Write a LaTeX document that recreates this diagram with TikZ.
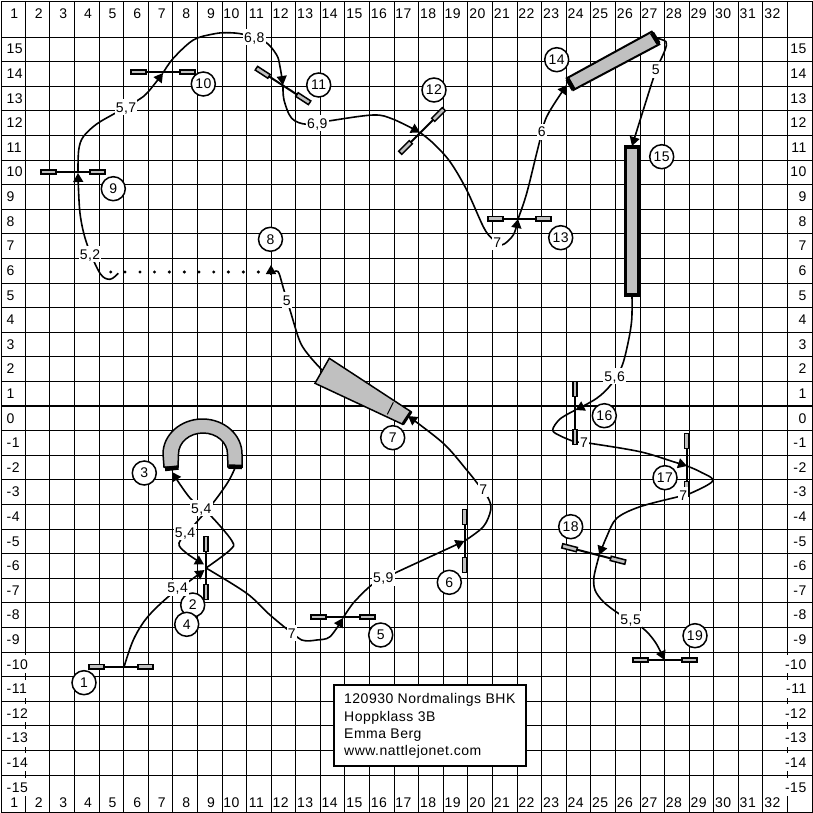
\documentclass[tikz,border=0pt]{standalone}
\usepackage{fontspec}
\setmainfont[LetterSpace=3.5]{Liberation Sans}
\usetikzlibrary{arrows.meta}
\definecolor{jumpgray}{RGB}{192,192,192}
\tikzset{
  x=1pt,y=-1pt,
  gridline/.style={line width=1pt,black},
  axislabel/.style={font=\fontsize{14}{14}\selectfont,fill=white,inner xsep=0.5pt,inner ysep=2pt,text height=12pt,text depth=2pt},
  course/.style={line width=1.6pt,black,line join=round},
  arrowed/.style={course,-{Triangle[length=9pt,width=10pt]}},
  distlabel/.style={font=\fontsize{14}{14}\selectfont,fill=white,inner xsep=1pt,inner ysep=1pt,text height=12pt,text depth=2pt},
  jumpno/.style={circle,draw=black,line width=1.5pt,fill=white,minimum size=24pt,inner sep=0pt,font=\fontsize{14}{14}\selectfont},
  pole/.style={line width=2pt,black},
  barend/.style={draw=black,line width=1.5pt,fill=jumpgray},
  infotext/.style={font=\fontsize{14}{14}\selectfont,anchor=west,inner sep=0pt},
  coursedot/.style={black},
}
\newcommand{\fence}[5]{%
  \coordinate (#1) at (#2,#3);
  \begin{scope}[shift={(#2,#3)},rotate=#5]
    \draw[pole] (-#4,0) -- (#4,0);
    \draw[barend] (-#4+.5,-2.2) rectangle (-#4+15.5,2.2);
    \draw[barend] (#4-15.5,-2.2) rectangle (#4-.5,2.2);
  \end{scope}}
\begin{document}
\begin{tikzpicture}
\useasboundingbox (0,0) rectangle (813,813);
\fill[white] (0,0) rectangle (813,813);
% grid
\foreach \k in {0,...,31}{ \pgfmathsetmacro\xx{floor(25.3+24.59*\k)+0.5} \draw[gridline] (\xx,1) -- (\xx,812); }
\foreach \j in {0,...,30}{ \pgfmathsetmacro\yy{floor(37+24.6*\j)+0.5} \draw[gridline] (1,\yy) -- (812,\yy); }
\draw[gridline] (1.5,1.5) rectangle (812.5,812.5);
\draw[line width=2.2pt] (1,406) -- (813,406);
% axis labels
\foreach \k in {1,...,32}{
  \node[axislabel,anchor=east] (top\k) at ({25.3+24.59*(\k-1)-6.5},13.5) {\k};
  \node[axislabel,anchor=east] (bot\k) at ({25.3+24.59*(\k-1)-6.5},802) {\k};
}
\foreach \v in {-15,...,15}{
  \node[axislabel,anchor=west] (lft\v) at (6,{418-24.6*\v}) {\v};
  \node[axislabel,anchor=east] (rgt\v) at (807,{418-24.6*\v}) {\v};
}
% named course points
\coordinate (p1) at (124,667);
\coordinate (p2) at (206,568);
\coordinate (p2a) at (204.5,570);
\coordinate (p3) at (172,472);
\coordinate (p3b) at (235,468);
\coordinate (p4a) at (204,564.5);
\coordinate (p5) at (343,618);
\coordinate (p6) at (464.5,541);
\coordinate (p7) at (408,416);
\coordinate (p7b) at (322,370);
\coordinate (p8) at (271,265);
\coordinate (p8s) at (271,274);
\coordinate (p9) at (78,173);
\coordinate (p10) at (163,73);
\coordinate (p11) at (283,85);
\coordinate (p12) at (420,132.5);
\coordinate (p13) at (518,219);
\coordinate (p14) at (567,85);
\coordinate (p14b) at (656,38);
\coordinate (p15) at (632,146);
\coordinate (p15b) at (632,296);
\coordinate (p16) at (575.5,410);
\coordinate (p17) at (687,466);
\coordinate (p18) at (599.3,555);
\coordinate (p19) at (664.5,660);
% course
\draw[arrowed] plot[smooth,tension=.55] coordinates {(p1) (133.3,640) (146.7,618) (168.3,596.7) (190,580.7) (p2a)};
\draw[arrowed] plot[smooth,tension=.55] coordinates {(p2) (230,550) (232,541) (210,515) (190,498) (p3)};
\draw[arrowed] plot[smooth,tension=.55] coordinates {(p3b) (228,482) (213,503) (192.7,526.7) (179,543) (186.7,553.3) (p4a)};
\draw[arrowed] plot[smooth,tension=.55] coordinates {(p2) (246.7,593.3) (270,615) (296.7,636.7) (305,640.7) (316.7,640) (330,636.7) (p5)};
\draw[arrowed] plot[smooth,tension=.45] coordinates {(p5) (353.3,603) (371.7,585) (395,573) (p6)};
\draw[arrowed] plot[smooth,tension=.55] coordinates {(p6) (483.3,526.7) (490.7,510) (488.3,498.3) (477.3,483.3) (466.7,470) (443.3,443.3) (p7)};
\draw[course] plot[smooth,tension=.55] coordinates {(p7b) (310,356.7) (300,341.7) (290,310) (283.3,288) (278,271.5) (p8s)};
\draw[arrowed] (p8s) -- (p8);
\foreach \d in {125,140,154.5,169.3,184.3,199,213.7,228.3,243.3,258.3,110.7}{ \fill[coursedot] (\d,272) circle (1.7); }
\draw[arrowed] plot[smooth,tension=.55] coordinates {(118.3,273.3) (110,279.3) (100,273.3) (86.7,243.3) (80,213.3) (p9)};
\draw[arrowed] plot[smooth,tension=.55] coordinates {(p9) (78.7,150) (83.3,136.7) (96.7,124) (115,113.3) (138.3,100) (148.3,91.7) (p10)};
\draw[arrowed] plot[smooth,tension=.55] coordinates {(p10) (173.3,58.3) (193.3,40) (213.3,34) (226.7,32.7) (243.3,34.3) (265,41.7) (276.7,55) (280,66.7) (p11)};
\draw[arrowed] plot[smooth,tension=.55] coordinates {(p11) (284,100) (291.7,118.3) (306.7,124.3) (328.3,121) (373.3,115) (393.3,119.3) (p12)};
\draw[arrowed] plot[smooth,tension=.55] coordinates {(p12) (433.3,143.3) (450,161.7) (466.7,190) (483.3,226.7) (491.7,238.3) (501.7,245) (513.3,235) (p13)};
\draw[arrowed] plot[smooth,tension=.55] coordinates {(p13) (526.7,193.3) (538.3,146.7) (546.7,116.7) (p14)};
\draw[arrowed] plot[smooth,tension=.55] coordinates {(p14b) (666,41.7) (665,50) (658.3,65) (653.3,78.3) (p15)};
\draw[arrowed] plot[smooth,tension=.55] coordinates {(p15b) (631.7,320) (628,343) (621.7,366.7) (610.7,385) (596.7,398.3) (p16)};
\draw[arrowed] plot[smooth,tension=.55] coordinates {(p16) (560,419) (552.7,430) (560,435.7) (575,441.7) (590,443.3) (640,451.7) (673.3,461.7) (p17)};
\draw[arrowed] plot[smooth,tension=.55] coordinates {(p17) (700,471.7) (712.7,481) (688.3,494.3) (678.3,496.7) (640,506.7) (616.7,518.3) (606.7,536.7) (p18)};
\draw[arrowed] plot[smooth,tension=.55] coordinates {(p18) (594,576.7) (595,590) (603.3,601.7) (618.3,613.3) (641.7,627.3) (655,641.7) (p19)};
% simple fences
\fence{f1}{121}{666.7}{32.5}{0}
\fence{f2}{206}{568}{32}{90}
\fence{f5}{343}{617}{32.5}{0}
\fence{f6}{464.7}{541}{32}{90}
\fence{f9}{73}{172}{32.5}{0}
\fence{f10}{163}{72}{32.5}{0}
\fence{f11}{283}{85.5}{32.2}{-33}
\fence{f12}{422}{131}{31.3}{45}
\fence{f13}{519.7}{218.7}{32}{0}
\fence{f16}{575}{413}{32}{90}
\fence{f17}{686.7}{465}{32}{90}
\fence{f18}{593.8}{554}{33}{-14.5}
\fence{f19}{665}{660}{32.5}{0}
% jump 3 arch
\draw[draw=black,line width=1.5pt,fill=jumpgray] (164,467) -- (163,454) arc[start angle=180,end angle=360,x radius=39.5,y radius=35] -- (242,467) -- (228,467) -- (227.5,454) arc[start angle=360,end angle=180,x radius=24.5,y radius=21] -- (178,467) -- cycle;
\draw[line width=4.5pt] (165,469) -- (178.5,467.5);
\draw[line width=4.5pt] (228.5,466.5) -- (242,467);
% jump 7 wedge
\draw[draw=black,line width=1.5pt,fill=jumpgray] (329.3,358.3) -- (411,411.7) -- (402.7,424.3) -- (315,383.3) -- cycle;
\draw[line width=1pt] (393.3,402.3) -- (387.3,414.3);
\draw[line width=3pt] (411,411.7) -- (402.7,424.3);
% jump 14 oxer
\draw[draw=black,line width=2pt,fill=jumpgray] (566.7,78.3) -- (651.7,31.7) -- (659.3,44.3) -- (573.3,90) -- cycle;
\draw[line width=4.5pt] (567.5,79) -- (573.5,89.5);
\draw[line width=4.5pt] (652,33) -- (658.5,43.5);
% jump 15 oxer
\draw[draw=black,line width=2.6pt,fill=jumpgray] (625.3,147) rectangle (638.7,295);
\draw[line width=4pt] (624,147) -- (640,147);
\draw[line width=4pt] (624,295) -- (640,295);
% numbers
\node[jumpno] (n1) at (84,682.7) {1};
\node[jumpno] (n2) at (192.7,605) {2};
\node[jumpno] (n4) at (186.7,624.3) {4};
\node[jumpno] (n3) at (144.3,473) {3};
\node[jumpno] (n5) at (380.7,635) {5};
\node[jumpno] (n6) at (449.3,582.3) {6};
\node[jumpno] (n7) at (392.7,437.7) {7};
\node[jumpno] (n8) at (270.5,239.3) {8};
\node[jumpno] (n9) at (113.3,188.7) {9};
\node[jumpno] (n10) at (203.3,84) {10};
\node[jumpno] (n11) at (318.7,85) {11};
\node[jumpno] (n12) at (434,90) {12};
\node[jumpno] (n13) at (560.7,237.7) {13};
\node[jumpno] (n14) at (556.7,59.7) {14};
\node[jumpno] (n15) at (661.7,156.7) {15};
\node[jumpno] (n16) at (604.3,415.7) {16};
\node[jumpno] (n17) at (665,477.7) {17};
\node[jumpno] (n18) at (570.7,526.7) {18};
\node[jumpno] (n19) at (695,635.7) {19};
% distance labels
\node[distlabel] (d1) at (177.7,587.7) {5,4};
\node[distlabel] (d2) at (201.3,508) {5,4};
\node[distlabel] (d3) at (185,532.3) {5,4};
\node[distlabel] (d4) at (291.7,633.3) {7};
\node[distlabel] (d5) at (383.3,577.7) {5,9};
\node[distlabel] (d6) at (483.3,489.3) {7};
\node[distlabel] (d7) at (286.7,300) {5};
\node[distlabel] (d8) at (90,254.3) {5,2};
\node[distlabel] (d9) at (126,107.3) {5,7};
\node[distlabel] (d10) at (254.3,37.3) {6,8};
\node[distlabel] (d11) at (317.3,123.3) {6,9};
\node[distlabel] (d12) at (497.3,242) {7};
\node[distlabel] (d13) at (541.7,131.7) {6};
\node[distlabel] (d14) at (655.7,70) {5};
\node[distlabel] (d15) at (614.7,376) {5,6};
\node[distlabel] (d16) at (584,442.7) {7};
\node[distlabel] (d17) at (683.3,495) {7};
\node[distlabel] (d18) at (630.7,619) {5,5};
% info box
\draw[line width=2pt,fill=white] (334.3,685.3) rectangle (526.3,766);
\node[infotext] (i1) at (344,700) {120930 Nordmalings BHK};
\node[infotext] (i2) at (344,718) {Hoppklass 3B};
\node[infotext] (i3) at (344,735.5) {Emma Berg};
\node[infotext] (i4) at (344,752) {www.nattlejonet.com};
\end{tikzpicture}
\end{document}
